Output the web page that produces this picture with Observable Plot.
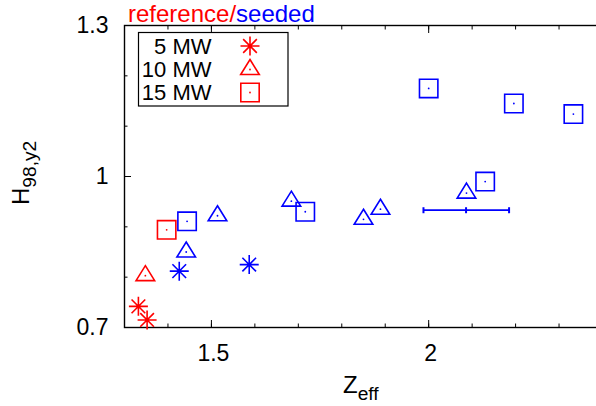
<!DOCTYPE html>
<html>
<head>
<meta charset="utf-8">
<script src="https://cdn.jsdelivr.net/npm/d3@7"></script>
<script src="https://cdn.jsdelivr.net/npm/@observablehq/plot@0.6"></script>
<style>
  html, body { margin: 0; padding: 0; background: #fff; }
  #wrap { position: relative; width: 596px; height: 406px; overflow: hidden; font-family: "Liberation Sans", Arial, sans-serif; }
  #wrap > svg { position: absolute; left: 0; top: 0; }
</style>
</head>
<body>
<div id="wrap"></div>
<script>
// ---- data ----
const seriesNames = ["reference/", "seeded"];
const seriesColors = ["#ff0000", "#0000ff"];
const powers = ["5 MW", "10 MW", "15 MW"];

const refPower = ["5 MW", "5 MW", "10 MW", "15 MW"];
const refZeff  = [1.332, 1.352, 1.348, 1.397];
const refH     = [0.742, 0.715, 0.803, 0.894];

const seedPower = ["5 MW", "5 MW",
  "10 MW", "10 MW", "10 MW", "10 MW", "10 MW", "10 MW",
  "15 MW", "15 MW", "15 MW", "15 MW", "15 MW", "15 MW"];
const seedZeff = [1.426, 1.587,
  1.442, 1.514, 1.684, 1.850, 1.889, 2.087,
  1.444, 1.716, 2.130, 2.000, 2.196, 2.333];
const seedH = [0.812, 0.825,
  0.850, 0.922, 0.951, 0.915, 0.935, 0.967,
  0.911, 0.930, 0.990, 1.175, 1.145, 1.124];

// horizontal error bar (seeded)
const errZeff = [1.988, 2.086, 2.185];   // low, centre, high
const errH = 0.933;

const xTicksMajor = [1.5, 2];
const xTicksMinor = [1.3, 1.4, 1.5, 1.6, 1.7, 1.8, 1.9, 2.0, 2.1, 2.2, 2.3, 2.4];
const yTicksMajor = [0.7, 1, 1.3];
const yTicksMinor = [0.7, 0.8, 0.9, 1.0, 1.1, 1.2, 1.3];

// ---- symbols (gnuplot-like) ----
const asterisk = { draw(ctx, size) {
  const r = Math.sqrt(size / Math.PI) * 0.95, d = r * 0.72;
  ctx.moveTo(-r, 0); ctx.lineTo(r, 0);
  ctx.moveTo(0, -r); ctx.lineTo(0, r);
  ctx.moveTo(-d, -d); ctx.lineTo(d, d);
  ctx.moveTo(-d, d); ctx.lineTo(d, -d);
}};
const triangle = { draw(ctx, size) {
  const r = Math.sqrt(size / Math.PI);
  ctx.moveTo(0, -r); ctx.lineTo(r * 0.93, r * 0.5); ctx.lineTo(-r * 0.93, r * 0.5); ctx.closePath();
}};
const square = { draw(ctx, size) {
  const r = Math.sqrt(size / Math.PI) * 0.92;
  ctx.moveTo(-r, -r); ctx.lineTo(r, -r); ctx.lineTo(r, r); ctx.lineTo(-r, r); ctx.closePath();
}};
const vbar = { draw(ctx, size) {
  const r = Math.sqrt(size / Math.PI);
  ctx.moveTo(0, -r); ctx.lineTo(0, r);
}};
const symbolRange = [asterisk, triangle, square];

const refData = refZeff.map((x, i) => ({x, y: refH[i], p: refPower[i]}));
const seedData = seedZeff.map((x, i) => ({x, y: seedH[i], p: seedPower[i]}));

const fontFamily = "Liberation Sans, Arial, sans-serif";
const FS = 23;

const chart = Plot.plot({
  width: 596,
  height: 406,
  marginLeft: 124,
  marginRight: -6,
  marginTop: 25,
  marginBottom: 79,
  x: {domain: [1.3, 2.4]},
  y: {domain: [0.7, 1.3]},
  symbol: {domain: powers, range: symbolRange},
  style: {fontFamily, fontSize: FS + "px", color: "black", background: "white"},
  marks: [
    // tick marks (inward, mirrored)
    Plot.axisX(xTicksMinor, {anchor: "bottom", tickSize: -3.5, fill: "none", label: null, stroke: "black"}),
    Plot.axisX(xTicksMajor, {anchor: "bottom", tickSize: -7, fill: "none", label: null, stroke: "black"}),
    Plot.axisX(xTicksMinor, {anchor: "top", tickSize: -3.5, fill: "none", label: null, stroke: "black"}),
    Plot.axisX(xTicksMajor, {anchor: "top", tickSize: -7, fill: "none", label: null, stroke: "black"}),
    Plot.axisY(yTicksMinor, {anchor: "left", tickSize: -3.5, fill: "none", label: null, stroke: "black"}),
    Plot.axisY(yTicksMajor, {anchor: "left", tickSize: -7, fill: "none", label: null, stroke: "black"}),
    Plot.axisY(yTicksMinor, {anchor: "right", tickSize: -3.5, fill: "none", label: null, stroke: "black"}),
    Plot.axisY(yTicksMajor, {anchor: "right", tickSize: -7, fill: "none", label: null, stroke: "black"}),
    // tick labels
    Plot.axisX(xTicksMajor, {anchor: "bottom", tickSize: 0, tickPadding: 17, label: null, fill: "black", fontSize: FS, dx: 2, tickFormat: d => String(d)}),
    Plot.axisY(yTicksMajor, {anchor: "left", tickSize: 0, tickPadding: 16, label: null, fill: "black", fontSize: FS, tickFormat: d => String(d)}),
    Plot.frame({stroke: "black", strokeWidth: 1.4}),
    // error bar
    Plot.link([errZeff], {x1: d => d[0], x2: d => d[2], y1: errH, y2: errH, stroke: seriesColors[1], strokeWidth: 1.8}),
    Plot.dot(errZeff, {x: d => d, y: errH, symbol: vbar, r: 3, stroke: seriesColors[1], strokeWidth: 2, fill: "none"}),
    // reference points
    Plot.dot(refData, {x: "x", y: "y", symbol: "p", r: 10, stroke: seriesColors[0], strokeWidth: 1.6, fill: "none"}),
    Plot.dot(refData.filter(d => d.p !== "5 MW"), {x: "x", y: "y", r: 0.9, fill: seriesColors[0], stroke: null}),
    // seeded points
    Plot.dot(seedData, {x: "x", y: "y", symbol: "p", r: 10, stroke: seriesColors[1], strokeWidth: 1.6, fill: "none"}),
    Plot.dot(seedData.filter(d => d.p !== "5 MW"), {x: "x", y: "y", r: 0.9, fill: seriesColors[1], stroke: null})
  ]
});

const wrap = document.getElementById("wrap");
wrap.appendChild(chart);

// ---- overlay: title, axis labels, legend ----
const ns = "http://www.w3.org/2000/svg";
const ov = d3.select(wrap).append("svg")
  .attr("xmlns", ns).attr("width", 596).attr("height", 406)
  .style("pointer-events", "none")
  .attr("font-family", fontFamily);

// title
const t = ov.append("text").attr("x", 128).attr("y", 22).attr("font-size", 24);
seriesNames.forEach((s, i) => t.append("tspan").attr("fill", seriesColors[i]).text(s));

// x label
const LFS = 24;
const xl = ov.append("text").attr("x", 343).attr("y", 393).attr("font-size", LFS).attr("fill", "black");
xl.append("tspan").text("Z");
xl.append("tspan").attr("font-size", LFS * 0.8).attr("dy", 7).text("eff");

// y label
const yl = ov.append("text").attr("transform", "translate(29,205) rotate(-90)").attr("font-size", LFS).attr("fill", "black");
yl.append("tspan").text("H");
yl.append("tspan").attr("font-size", LFS * 0.8).attr("dy", 7).text("98,y2");

// legend
const lg = ov.append("g").attr("transform", "translate(138.5,32.5)");
lg.append("rect").attr("width", 149.5).attr("height", 73.5).attr("fill", "white").attr("stroke", "black").attr("stroke-width", 1.2);
const rowY = [13.5, 37, 60];
powers.forEach((p, i) => {
  lg.append("text").attr("x", 73).attr("y", rowY[i]).attr("dy", "0.36em")
    .attr("text-anchor", "end").attr("font-size", 22).attr("fill", "black").text(p);
  lg.append("path").attr("transform", `translate(111.5,${rowY[i]})`)
    .attr("d", d3.symbol(symbolRange[i], 100 * Math.PI)())
    .attr("fill", "none").attr("stroke", seriesColors[0]).attr("stroke-width", 1.6);
  if (i > 0) lg.append("circle").attr("cx", 111.5).attr("cy", rowY[i]).attr("r", 0.9).attr("fill", seriesColors[0]);
});
</script>
</body>
</html>
